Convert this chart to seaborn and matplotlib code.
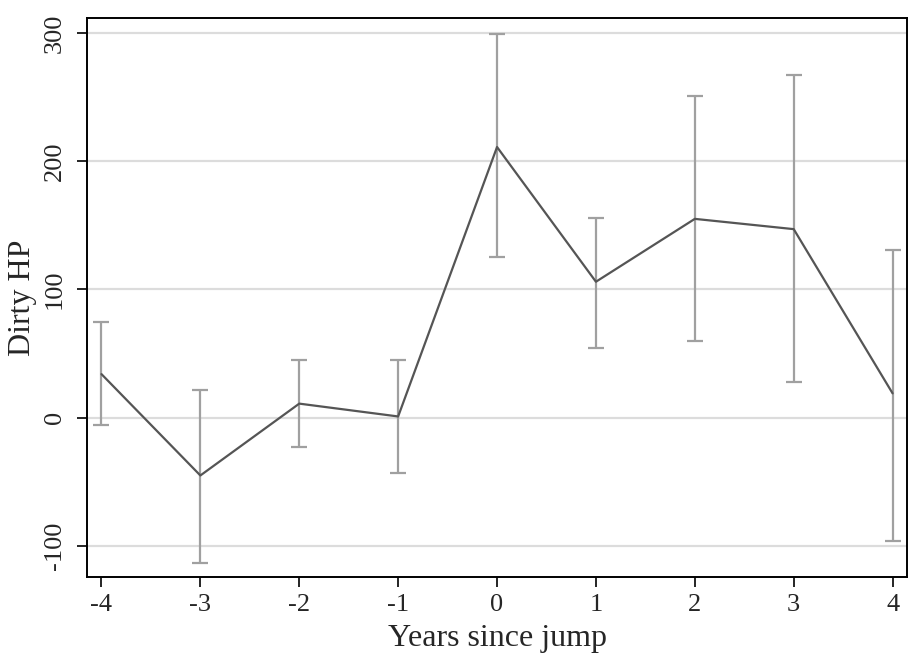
import matplotlib
matplotlib.use("Agg")
import matplotlib.pyplot as plt
import seaborn as sns
import pandas as pd

years = [-4, -3, -2, -1, 0, 1, 2, 3, 4]
coef = [34, -45, 11, 1, 211, 106, 155, 147, 19]
ci_low = [-6, -113, -23, -43, 125, 54, 60, 28, -96]
ci_high = [75, 22, 45, 45, 299, 156, 251, 267, 131]

df = pd.DataFrame({"year": years, "coef": coef, "lo": ci_low, "hi": ci_high})

sns.set_theme(style="white")
plt.rcParams["font.family"] = ["Liberation Serif", "DejaVu Serif"]

fig, ax = plt.subplots(figsize=(9.12, 6.6), dpi=100)
fig.subplots_adjust(left=0.095, right=0.995, top=0.973, bottom=0.126)

for y in [-100, 0, 100, 200, 300]:
    ax.axhline(y, color="#dcdcdc", lw=1.6, zorder=0)

ax.errorbar(df["year"], df["coef"],
            yerr=[df["coef"] - df["lo"], df["hi"] - df["coef"]],
            fmt="none", ecolor="#a0a0a0", elinewidth=1.6, capsize=6,
            capthick=1.6, zorder=2)
sns.lineplot(data=df, x="year", y="coef", ax=ax, color="#555555", lw=1.6,
             zorder=3)

ax.set_xlim(-4.15, 4.15)
ax.set_ylim(-124, 311.7)
ax.set_xticks(years)
ax.set_xticklabels([str(v) for v in years])
ax.set_yticks([-100, 0, 100, 200, 300])
ax.set_yticklabels(["-100", "0", "100", "200", "300"], rotation=90, va="center")
ax.tick_params(axis="both", direction="out", length=7, width=1.2, color="black",
               labelsize=19, bottom=True, left=True)
ax.tick_params(axis="x", pad=5)
ax.tick_params(axis="y", pad=8)
ax.set_xlabel("Years since jump", fontsize=23, labelpad=6)
ax.set_ylabel("Dirty HP", fontsize=23)
ax.yaxis.set_label_coords(-0.06, 0.5)
for s in ax.spines.values():
    s.set_visible(True)
    s.set_color("black")
    s.set_linewidth(1.4)

fig.savefig("out.png", dpi=100)
